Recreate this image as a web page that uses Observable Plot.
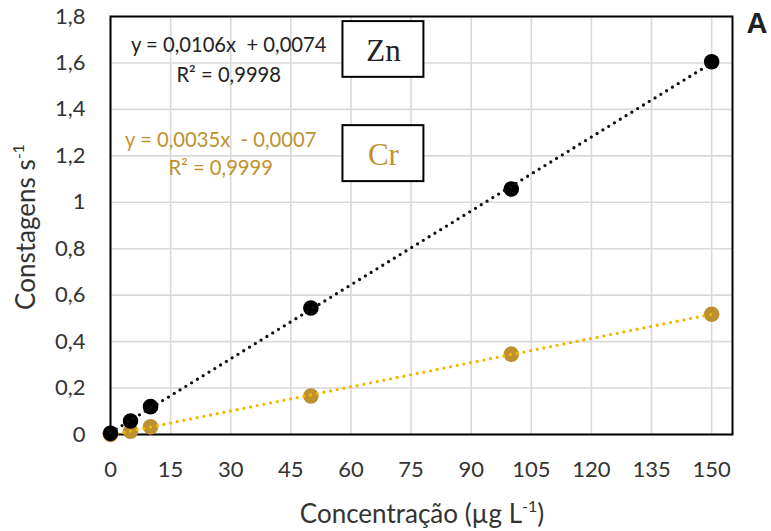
<!DOCTYPE html>
<html><head><meta charset="utf-8">
<script src="https://cdn.jsdelivr.net/npm/d3@7"></script>
<script src="https://cdn.jsdelivr.net/npm/@observablehq/plot@0.6"></script>
<style>body{margin:0;background:#fff;} svg{white-space:pre;}</style>
</head><body><div id="chart"></div>
<script>
// ---- data ----
const concentrations = [0, 5, 10, 50, 100, 150];
const znValues = [0.005, 0.058, 0.12, 0.545, 1.057, 1.605];
const crValues = [0.0, 0.014, 0.033, 0.166, 0.346, 0.518];
const xTicks = [0, 15, 30, 45, 60, 75, 90, 105, 120, 135, 150];
const yTicks = [0, 0.2, 0.4, 0.6, 0.8, 1.0, 1.2, 1.4, 1.6, 1.8];
const yTickLabels = ["0", "0,2", "0,4", "0,6", "0,8", "1", "1,2", "1,4", "1,6", "1,8"];
const seriesNames = ["Zn", "Cr"];
const znEquation = ["y = 0,0106x  + 0,0074", "R² = 0,9998"];
const crEquation = ["y = 0,0035x  - 0,0007", "R² = 0,9999"];

const colZn = "#000000", colCr = "#bf9030", colCrLine = "#f2b700", colCrText = "#c0922e";

const zn = concentrations.map((c, i) => ({x: c, y: znValues[i]}));
const cr = concentrations.map((c, i) => ({x: c, y: crValues[i]}));

// annotation anchors in data units
const eqRows = [
  {x: 29.5, y: 1.675, t: znEquation[0], c: "#222"},
  {x: 29.5, y: 1.546, t: znEquation[1], c: "#222"},
  {x: 27.5, y: 1.266, t: crEquation[0], c: colCrText},
  {x: 27.5, y: 1.146, t: crEquation[1], c: colCrText}
];
const boxes = [
  {x1: 58.0, x2: 78.2, y1: 1.538, y2: 1.778, name: seriesNames[0], ty: 1.652, c: "#222"},
  {x1: 58.0, x2: 78.2, y1: 1.089, y2: 1.330, name: seriesNames[1], ty: 1.205, c: colCrText}
];

const dotted = {strokeDasharray: "0,6.8", strokeLinecap: "round", strokeWidth: 3.3};

const chart = Plot.plot({
  width: 771, height: 531,
  marginLeft: 110, marginRight: 39, marginTop: 16, marginBottom: 97,
  style: {fontFamily: "Lato, sans-serif", fontSize: "22px", color: "#333", background: "#fff"},
  x: {domain: [0, 155.2], ticks: xTicks, tickSize: 0, tickPadding: 27, label: null},
  y: {domain: [0, 1.8], ticks: yTicks, tickSize: 0, tickPadding: 25, label: null,
      tickFormat: d => yTickLabels[yTicks.findIndex(t => Math.abs(t - d) < 1e-9)]},
  marks: [
    Plot.gridX(xTicks, {stroke: "#d9d9d9", strokeOpacity: 1, strokeWidth: 1.6}),
    Plot.gridY(yTicks, {stroke: "#d9d9d9", strokeOpacity: 1, strokeWidth: 1.6}),
    Plot.frame({stroke: "#000", strokeWidth: 2}),
    Plot.dot(cr, {x: "x", y: "y", r: 7.8, fill: colCr, stroke: "none"}),
    Plot.linearRegressionY(cr, {x: "x", y: "y", ci: 0, stroke: colCrLine, ...dotted}),
    Plot.dot(zn, {x: "x", y: "y", r: 7.8, fill: colZn, stroke: "none"}),
    Plot.linearRegressionY(zn, {x: "x", y: "y", ci: 0, stroke: "#111", ...dotted}),
    Plot.text(eqRows, {x: "x", y: "y", text: "t", fill: "c", fontSize: 20.2, textAnchor: "middle"}),
    Plot.rect(boxes, {x1: "x1", x2: "x2", y1: "y1", y2: "y2", fill: "#fff", stroke: "#000", strokeWidth: 2}),
    Plot.text(boxes, {x: d => (d.x1 + d.x2) / 2, y: "ty", text: "name", fill: "c", fontSize: 31,
      fontFamily: "Liberation Serif, serif", textAnchor: "middle"})
  ]
});

const svg = d3.select(chart.tagName.toLowerCase() === "svg" ? chart : chart.querySelector("svg"));
// x axis title
const xt = svg.append("text").attr("x", 422).attr("y", 523).attr("text-anchor", "middle")
  .attr("font-family", "Lato, sans-serif").attr("font-size", 26).attr("fill", "#333");
xt.append("tspan").text("Concentração (µg L");
xt.append("tspan").attr("font-size", 16).attr("dy", -11).text("-1");
xt.append("tspan").attr("dy", 11).text(")");
// y axis title
const yt = svg.append("text").attr("transform", "translate(35,227) rotate(-90)").attr("text-anchor", "middle")
  .attr("font-family", "Lato, sans-serif").attr("font-size", 26).attr("fill", "#333");
yt.append("tspan").text("Constagens s");
yt.append("tspan").attr("font-size", 16).attr("dy", -11).text("-1");
// panel letter
svg.append("text").attr("x", 757).attr("y", 33).attr("text-anchor", "middle")
  .attr("font-family", "Liberation Sans, Arial, sans-serif").attr("font-weight", "bold")
  .attr("font-size", 29).attr("fill", "#222").text("A");

document.getElementById("chart").appendChild(chart);
</script>
</body></html>
